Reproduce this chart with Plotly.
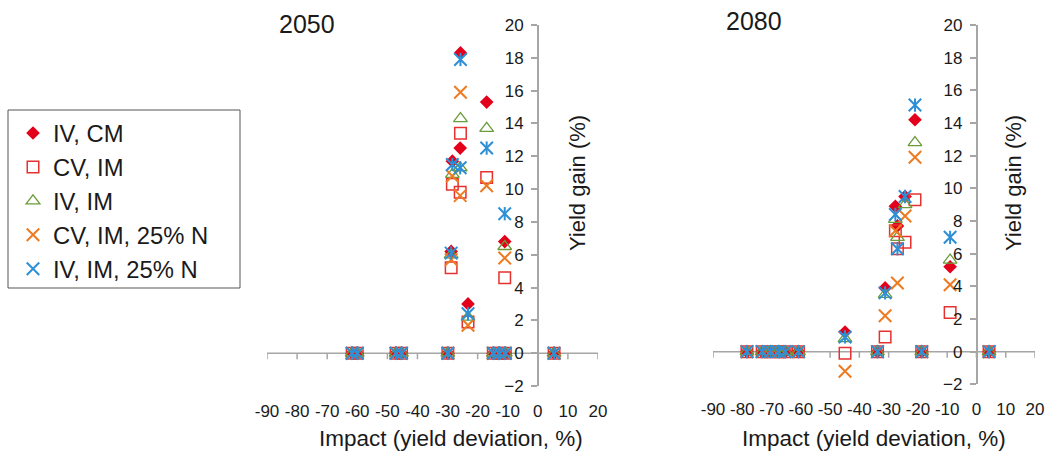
import plotly.graph_objects as go

# ---------------- data ----------------
series_names = ["IV, CM", "CV, IM", "IV, IM", "CV, IM, 25% N", "IV, IM, 25% N"]

# 2050 panel: impact (x) per location and yield gain per management option
x_2050 = [-61.7, -60.0, -47.1, -45.3, -29.9, -28.8, -28.4, -25.7, -25.8, -23.2, -17.0, -14.8, -12.8, -11.0, -10.8, 5.4]
iv_cm_2050 = [0, 0, 0, 0, 0, 6.2, 11.7, 18.3, 12.5, 3.0, 15.3, 0, 0, 6.8, 0, 0]
cv_im_2050 = [0, 0, 0, 0, 0, 5.2, 10.3, 13.4, 9.8, 1.9, 10.7, 0, 0, 4.6, 0, 0]
iv_im_2050 = [0, 0, 0, 0, 0, 6.0, 10.9, 14.3, 11.3, 2.2, 13.7, 0, 0, 6.5, 0, 0]
cv_im_n_2050 = [0, 0, 0, 0, 0, 5.7, 10.8, 15.9, 9.6, 1.7, 10.2, 0, 0, 5.8, 0, 0]
iv_im_n_2050 = [0, 0, 0, 0, 0, 6.1, 11.5, 17.9, 11.3, 2.4, 12.5, 0, 0, 8.5, 0, 0]

# 2080 panel
x_2080 = [-78.4, -73.2, -70.4, -67.7, -65.3, -60.8, -44.9, -33.8, -31.2, -27.7, -27.0, -24.4, -21.0, -18.7, -9.0, 4.3]
iv_cm_2080 = [0, 0, 0, 0, 0, 0, 1.2, 0, 3.9, 8.9, 7.7, 9.5, 14.2, 0, 5.2, 0]
cv_im_2080 = [0, 0, 0, 0, 0, 0, -0.1, 0, 0.9, 7.4, 6.3, 6.7, 9.3, 0, 2.4, 0]
iv_im_2080 = [0, 0, 0, 0, 0, 0, 0.8, 0, 3.5, 8.1, 7.0, 9.0, 12.8, 0, 5.6, 0]
cv_im_n_2080 = [0, 0, 0, 0, 0, 0, -1.2, 0, 2.2, 7.4, 4.2, 8.3, 11.9, 0, 4.1, 0]
iv_im_n_2080 = [0, 0, 0, 0, 0, 0, 0.9, 0, 3.6, 8.4, 6.3, 9.5, 15.1, 0, 7.0, 0]

x_ticks = [-90, -80, -70, -60, -50, -40, -30, -20, -10, 0, 10, 20]
x_tick_labels = ["-90", "-80", "-70", "-60", "-50", "-40", "-30", "-20", "-10", "0", "10", "20"]
y_ticks = [-2, 0, 2, 4, 6, 8, 10, 12, 14, 16, 18, 20]
y_tick_labels = ["\u22122", "0", "2", "4", "6", "8", "10", "12", "14", "16", "18", "20"]

panel_titles = ["2050", "2080"]

# ---------------- style ----------------
W, H = 1045, 451
FONT = "Liberation Sans, Arial, sans-serif"
TXT = "#1a1a1a"
AX = "#a6a6a6"

RED = "#E2001A"
RED_SQ = "#E5312F"
GREEN = "#6A9C3A"
ORANGE = "#EE7B22"
BLUE = "#2D8FD5"


def px(x):
    return x / W


def py(y):
    return (H - y) / H


fig = go.Figure()

panels = [
    (x_2050, [iv_cm_2050, cv_im_2050, iv_im_2050, cv_im_n_2050, iv_im_n_2050], "x", "y"),
    (x_2080, [iv_cm_2080, cv_im_2080, iv_im_2080, cv_im_n_2080, iv_im_n_2080], "x2", "y2"),
]

for pi, (xs, ys, xa, ya) in enumerate(panels):
    show = pi == 0
    fig.add_trace(go.Scatter(x=xs, y=ys[0], mode="markers", name=series_names[0], legendgroup="g0",
                             showlegend=show, xaxis=xa, yaxis=ya,
                             marker=dict(symbol="diamond", size=10.5, color=RED, line=dict(width=0))))
    fig.add_trace(go.Scatter(x=xs, y=ys[1], mode="markers", name=series_names[1], legendgroup="g1",
                             showlegend=show, xaxis=xa, yaxis=ya,
                             marker=dict(symbol="square-open", size=11.5, color=RED_SQ, line=dict(width=1.5, color=RED_SQ))))
    fig.add_trace(go.Scatter(x=xs, y=ys[2], mode="markers", name=series_names[2], legendgroup="g2",
                             showlegend=show, xaxis=xa, yaxis=ya,
                             marker=dict(symbol="triangle-up-open", size=12, color=GREEN, line=dict(width=1.3, color=GREEN))))
    fig.add_trace(go.Scatter(x=xs, y=ys[3], mode="markers", name=series_names[3], legendgroup="g3",
                             showlegend=show, xaxis=xa, yaxis=ya,
                             marker=dict(symbol="x-thin-open", size=12.5, color=ORANGE, line=dict(width=2, color=ORANGE))))
    fig.add_trace(go.Scatter(x=xs, y=ys[4], mode="markers", name=series_names[4], legendgroup="g4",
                             showlegend=show, xaxis=xa, yaxis=ya,
                             marker=dict(symbol="x-thin-open", size=12.5, color=BLUE, line=dict(width=2, color=BLUE))))
    fig.add_trace(go.Scatter(x=xs, y=ys[4], mode="markers", name=series_names[4], legendgroup="g4",
                             showlegend=False, xaxis=xa, yaxis=ya, hoverinfo="skip",
                             marker=dict(symbol="line-ns-open", size=9.5, color=BLUE, line=dict(width=2, color=BLUE))))

# geometry (pixels)
geo = [
    dict(x0=267, x1=598, ytop=25, ybot=386.0, yaxis_x=537.8),
    dict(x0=713, x1=1035, ytop=25, ybot=384.3, yaxis_x=976.5),
]

tickfont = dict(family=FONT, size=17, color=TXT)
shapes = [dict(type="rect", xref="paper", yref="paper", x0=px(8), x1=px(240), y0=py(288), y1=py(110),
               line=dict(color="#555555", width=1), fillcolor="rgba(0,0,0,0)")]

for i, g in enumerate(geo):
    s = "" if i == 0 else "2"
    dom_x = [px(g["x0"]), px(g["x1"])]
    dom_y = [py(g["ybot"]), py(g["ytop"])]
    fig.layout["xaxis" + s] = dict(
        domain=dom_x, range=[-90, 20], anchor="y" + s, showline=False, showgrid=False, zeroline=False,
        ticks="", tickvals=x_ticks, ticktext=x_tick_labels, tickfont=tickfont, ticklabelstandoff=13,
        automargin=False,
    )
    fig.layout["yaxis" + s] = dict(
        domain=dom_y, range=[-2, 20], anchor="free", position=px(g["yaxis_x"]),
        showline=True, linecolor=AX, linewidth=1.5, ticks="outside", ticklen=6, tickcolor=AX, tickwidth=1.5,
        tickvals=y_ticks, ticktext=y_tick_labels, tickfont=tickfont, showgrid=False, zeroline=False,
        ticklabelstandoff=4, automargin=False,
    )
    # horizontal axis line at y = 0, with downward tick marks
    xr, yr = "x" + s, "y" + s
    shapes.append(dict(type="line", xref=xr, yref=yr, x0=x_ticks[0], x1=x_ticks[-1], y0=0, y1=0,
                       line=dict(color=AX, width=1.5), layer="below"))
    for t in x_ticks:
        shapes.append(dict(type="line", xref=xr, yref=yr, x0=t, x1=t, ysizemode="pixel", yanchor=0,
                           y0=0, y1=-6, line=dict(color=AX, width=1.5), layer="below"))

annotations = [
    dict(text=panel_titles[0], x=px(307), y=py(24), font=dict(size=25)),
    dict(text=panel_titles[1], x=px(754), y=py(21), font=dict(size=25)),
    dict(text="Yield gain (%)", x=px(577), y=py(183), textangle=-90, font=dict(size=22)),
    dict(text="Yield gain (%)", x=px(1013), y=py(183), textangle=-90, font=dict(size=22)),
    dict(text="Impact (yield deviation, %)", x=px(451), y=py(438), font=dict(size=22.5)),
    dict(text="Impact (yield deviation, %)", x=px(874), y=py(438), font=dict(size=22.5)),
]
for a in annotations:
    a.update(xref="paper", yref="paper", showarrow=False, xanchor="center", yanchor="middle")
    a["font"].update(family=FONT, color=TXT)

fig.update_layout(
    width=W, height=H, margin=dict(l=0, r=0, t=0, b=0, pad=0, autoexpand=False),
    paper_bgcolor="white", plot_bgcolor="rgba(0,0,0,0)",
    font=dict(family=FONT, color=TXT),
    annotations=annotations,
    shapes=shapes,
    legend=dict(x=px(13), y=py(111), xanchor="left", yanchor="top", bgcolor="rgba(0,0,0,0)",
                borderwidth=0, font=dict(family=FONT, size=23.8, color=TXT), tracegroupgap=0),
    showlegend=True,
)

fig.write_html("out.html")
